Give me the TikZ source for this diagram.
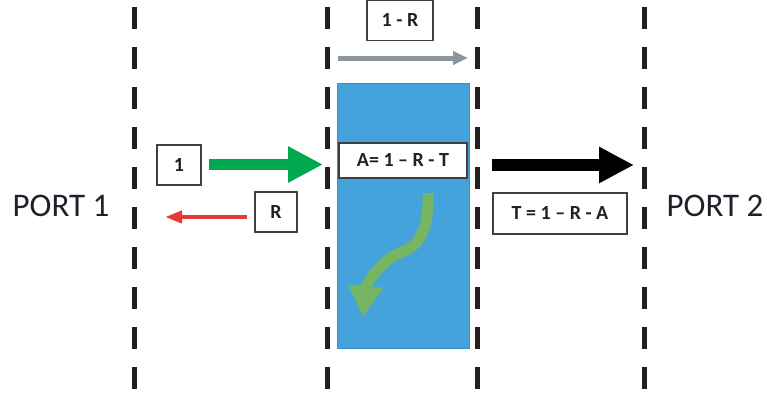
\documentclass[tikz,border=0pt]{standalone}
\usepackage{fontspec}
\setmainfont{Carlito}
\usetikzlibrary{arrows.meta}
\definecolor{dashink}{RGB}{35,31,32}
\definecolor{slab}{RGB}{67,163,218}
\definecolor{slabedge}{RGB}{58,143,197}
\definecolor{incident}{RGB}{0,168,80}
\definecolor{absorbed}{RGB}{118,181,98}
\definecolor{reflected}{RGB}{232,57,58}
\definecolor{passed}{RGB}{143,151,158}
\definecolor{boxline}{RGB}{64,64,64}
\definecolor{labelink}{RGB}{30,32,42}
\tikzset{
  port/.style={dashink, line width=5pt, dash pattern=on 22pt off 18pt},
  labelbox/.style={draw=boxline, line width=1.2pt, fill=white, inner sep=0pt,
    text=labelink, font=\fontsize{20}{20}\selectfont\bfseries},
  porttext/.style={inner sep=0pt, text=labelink, font=\fontsize{33}{33}\selectfont},
  bigarrow/.style={line width=11.5pt, -{Triangle[length=35pt,width=34pt]}},
  thinarrow/.style={line width=5pt, -{Triangle[length=15pt,width=13pt]}}
}
\begin{document}
\begin{tikzpicture}[x=1pt,y=-1pt]
\useasboundingbox (0,0) rectangle (767,396);

% absorbing slab
\fill[slab, draw=slabedge, line width=0.8pt] (337,83) rectangle (469,348);

% reference planes
\draw[port] (134,7) -- (134,392);
\draw[port] (327,7) -- (327,392);
\draw[port] (477,7) -- (477,392);
\draw[port] (644,7) -- (644,392);

% port names
\node[porttext] (p1) at (61,206) {PORT 1};
\node[porttext] (p2) at (715,206) {PORT 2};

% value boxes
\node[labelbox, minimum width=44pt, minimum height=40pt] (one) at (179,165) {1};
\node[labelbox, minimum width=42pt, minimum height=40pt] (refl) at (276,212) {R};
\node[labelbox, minimum width=66pt, minimum height=40pt] (onemr) at (400,20.5) {1 - R};
\node[labelbox, minimum width=128pt, minimum height=35pt] (absb) at (403,160.5) {A= 1 – R - T};
\node[labelbox, minimum width=134pt, minimum height=41pt] (trans) at (560,213.5) {T = 1 – R - A};

% arrow end points
\coordinate (inS) at (209,164.5);
\coordinate (inE) at (323,164.5);
\coordinate (rS) at (247,217);
\coordinate (rE) at (165,217);
\coordinate (gS) at (338,58);
\coordinate (gE) at (468,58);
\coordinate (tS) at (492,165);
\coordinate (tE) at (634,165);
\coordinate (aS) at (428,193);
\coordinate (aE) at (363,317);

% flows
\draw[bigarrow, incident] (inS) -- (inE);
\draw[bigarrow, black] (tS) -- (tE);
\draw[thinarrow, reflected, line width=4pt, -{Triangle[length=17pt,width=12pt]}] (rS) -- (rE);
\draw[thinarrow, passed] (gS) -- (gE);
\draw[absorbed, line width=11pt, -{Triangle[length=31pt,width=33pt]}]
  (aS) .. controls (429,232) and (418,246) .. (402,252)
       .. controls (380,260) and (366,285) .. (aE);
\end{tikzpicture}
\end{document}
